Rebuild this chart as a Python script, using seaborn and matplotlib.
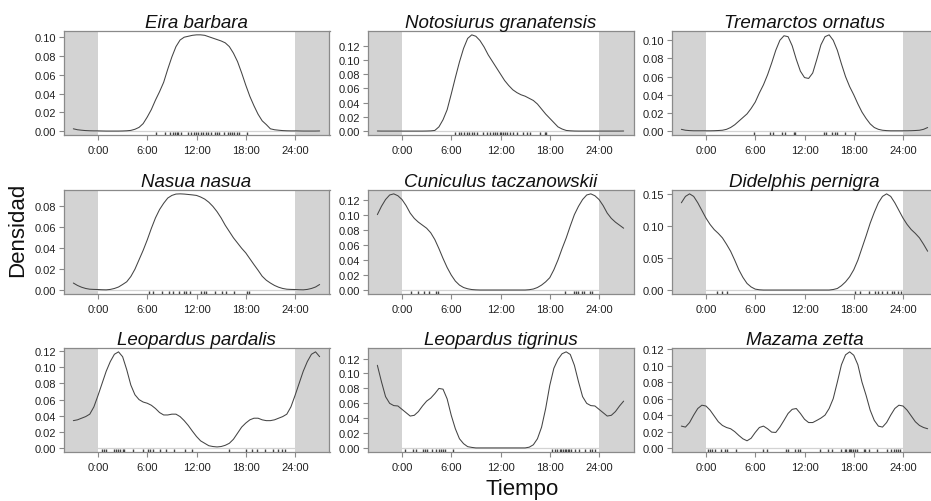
import numpy as np
import pandas as pd
import matplotlib
matplotlib.use("Agg")
import matplotlib.pyplot as plt
import seaborn as sns

# ---------------- data ----------------
species = ["Eira barbara", "Notosiurus granatensis", "Tremarctos ornatus",
           "Nasua nasua", "Cuniculus taczanowskii", "Didelphis pernigra",
           "Leopardus pardalis", "Leopardus tigrinus", "Mazama zetta"]

# density at every half hour from 0:00 to 23:30 (one daily cycle)
eira = [0.0003, 0.0002, 0.0001, 0.0001, 0.0001, 0.0001, 0.0002, 0.0004,
        0.0008, 0.002, 0.004, 0.008, 0.015, 0.023, 0.033, 0.042,
        0.052, 0.066, 0.079, 0.090, 0.097, 0.100, 0.101, 0.102,
        0.1025, 0.1025, 0.102, 0.1005, 0.099, 0.0975, 0.096, 0.094,
        0.090, 0.083, 0.074, 0.062, 0.049, 0.037, 0.027, 0.018,
        0.011, 0.007, 0.0025, 0.0015, 0.001, 0.0006, 0.0004, 0.0003]
noto = [0.0001, 0.0001, 0.0001, 0.0001, 0.0001, 0.0001, 0.0002, 0.0004,
        0.001, 0.006, 0.016, 0.030, 0.052, 0.075, 0.097, 0.116,
        0.130, 0.135, 0.133, 0.127, 0.118, 0.107, 0.098, 0.089,
        0.080, 0.071, 0.064, 0.058, 0.054, 0.051, 0.049, 0.046,
        0.043, 0.038, 0.031, 0.024, 0.018, 0.012, 0.006, 0.003,
        0.001, 0.0005, 0.0002, 0.0001, 0.0001, 0.0001, 0.0001, 0.0001]
trem = [0.0004, 0.0004, 0.0005, 0.0007, 0.001, 0.002, 0.004, 0.007,
        0.011, 0.015, 0.019, 0.025, 0.032, 0.042, 0.051, 0.062,
        0.075, 0.089, 0.100, 0.105, 0.104, 0.094, 0.079, 0.066,
        0.059, 0.058, 0.064, 0.079, 0.095, 0.104, 0.106, 0.100,
        0.089, 0.074, 0.060, 0.049, 0.040, 0.030, 0.021, 0.014,
        0.008, 0.004, 0.002, 0.001, 0.0006, 0.0004, 0.0004, 0.0004]
nasua = [0.0006, 0.0004, 0.0003, 0.0007, 0.0016, 0.003, 0.0054, 0.008,
         0.013, 0.020, 0.029, 0.038, 0.048, 0.059, 0.069, 0.077,
         0.083, 0.088, 0.0905, 0.0918, 0.092, 0.0918, 0.0914, 0.091,
         0.0905, 0.089, 0.087, 0.084, 0.080, 0.075, 0.069, 0.062,
         0.056, 0.050, 0.045, 0.040, 0.0356, 0.030, 0.0244, 0.019,
         0.0133, 0.0095, 0.0068, 0.0045, 0.0028, 0.0016, 0.0009, 0.0007]
cuni = [0.120, 0.112, 0.102, 0.095, 0.090, 0.086, 0.082, 0.076,
        0.067, 0.055, 0.042, 0.030, 0.020, 0.012, 0.0067, 0.0035,
        0.0018, 0.0008, 0.0004, 0.0002, 0.0002, 0.0002, 0.0002, 0.0002,
        0.0002, 0.0002, 0.0002, 0.0002, 0.0002, 0.0002, 0.0002, 0.0006,
        0.0015, 0.0035, 0.0067, 0.011, 0.0165, 0.027, 0.040, 0.055,
        0.069, 0.085, 0.100, 0.111, 0.120, 0.126, 0.1275, 0.125]
didel = [0.113, 0.103, 0.095, 0.089, 0.082, 0.072, 0.061, 0.047,
         0.032, 0.020, 0.0105, 0.005, 0.0016, 0.0006, 0.0002, 0.0002,
         0.0002, 0.0002, 0.0002, 0.0002, 0.0002, 0.0002, 0.0002, 0.0002,
         0.0002, 0.0002, 0.0002, 0.0002, 0.0002, 0.0002, 0.0002, 0.001,
         0.0026, 0.007, 0.013, 0.021, 0.032, 0.047, 0.066, 0.085,
         0.105, 0.122, 0.137, 0.147, 0.151, 0.147, 0.137, 0.125]
lpard = [0.065, 0.080, 0.095, 0.107, 0.116, 0.119, 0.113, 0.097,
         0.078, 0.066, 0.060, 0.057, 0.0555, 0.053, 0.049, 0.044,
         0.041, 0.041, 0.042, 0.042, 0.039, 0.034, 0.028, 0.021,
         0.0144, 0.009, 0.006, 0.003, 0.002, 0.0015, 0.002, 0.0035,
         0.006, 0.011, 0.0185, 0.026, 0.031, 0.035, 0.037, 0.037,
         0.035, 0.034, 0.034, 0.035, 0.037, 0.039, 0.042, 0.051]
ltig = [0.052, 0.0475, 0.043, 0.044, 0.049, 0.0565, 0.063, 0.067,
        0.073, 0.080, 0.079, 0.066, 0.044, 0.026, 0.0126, 0.006,
        0.002, 0.001, 0.0003, 0.0003, 0.0003, 0.0003, 0.0003, 0.0003,
        0.0003, 0.0003, 0.0003, 0.0003, 0.0003, 0.0003, 0.0003, 0.0013,
        0.0045, 0.0126, 0.028, 0.053, 0.084, 0.107, 0.119, 0.1265,
        0.129, 0.1255, 0.111, 0.089, 0.069, 0.060, 0.057, 0.0565]
mazama = [0.051, 0.046, 0.039, 0.032, 0.0275, 0.025, 0.0235, 0.020,
          0.0154, 0.0113, 0.0089, 0.012, 0.019, 0.025, 0.0267, 0.0235,
          0.0194, 0.019, 0.0255, 0.0336, 0.042, 0.047, 0.048, 0.042,
          0.035, 0.031, 0.031, 0.0336, 0.0364, 0.040, 0.048, 0.060,
          0.080, 0.101, 0.113, 0.1166, 0.1125, 0.101, 0.080, 0.064,
          0.046, 0.0336, 0.0267, 0.0255, 0.031, 0.040, 0.048, 0.052]

# observation times (hours) shown as rug ticks
eira_obs = [7.1, 8.2, 8.8, 9.1, 9.4, 9.6, 9.8, 10.1, 11.0, 11.3, 11.7, 11.9, 12.2,
            12.5, 12.8, 13.2, 13.4, 13.8, 14.2, 14.5, 14.7, 15.3, 15.8, 16.1,
            16.3, 16.6, 16.9, 17.2, 18.1]
noto_obs = [6.5, 6.9, 7.2, 7.5, 7.9, 8.2, 8.5, 8.8, 9.1, 9.9, 10.3, 10.7, 11.1,
            11.3, 11.6, 11.9, 12.1, 12.3, 12.6, 12.8, 13.1, 13.5, 14.0, 14.8,
            15.2, 15.6, 16.8, 17.4, 17.6]
trem_obs = [5.9, 7.8, 8.2, 9.2, 9.6, 10.7, 10.9, 14.4, 14.6, 15.4, 15.7, 16.0,
            16.9, 18.2]
nasua_obs = [6.2, 6.7, 7.8, 8.7, 9.1, 9.9, 10.5, 10.7, 11.2, 12.6, 12.9, 13.2,
             14.2, 15.1, 15.6, 16.6, 18.2, 18.4]
cuni_obs = [1.1, 2.0, 2.7, 3.3, 4.1, 4.4, 19.8, 20.9, 21.2, 21.4, 21.9, 22.2,
            22.9, 23.2]
didel_obs = [1.3, 2.0, 2.5, 18.1, 18.8, 19.8, 20.6, 20.9, 21.4, 22.0, 22.6,
             22.9, 23.4, 23.7]
lpard_obs = [0.5, 0.7, 1.0, 2.0, 2.2, 2.4, 2.7, 3.0, 3.2, 4.3, 5.5, 6.1, 6.3,
             6.7, 7.5, 8.3, 9.3, 10.6, 11.5, 16.0, 18.0, 18.8, 19.4, 20.4,
             21.3, 21.9, 22.4, 22.8]
ltig_obs = [0.4, 1.3, 1.7, 2.6, 2.8, 3.0, 3.7, 4.2, 4.5, 4.8, 5.0, 5.2, 6.2,
            18.3, 18.6, 18.9, 19.2, 19.4, 19.6, 19.8, 20.0, 20.2, 20.4, 20.6,
            21.1, 21.6, 22.3, 22.9, 23.2, 23.5]
mazama_obs = [0.2, 0.5, 0.7, 1.1, 1.8, 2.3, 2.5, 3.7, 6.9, 7.4, 9.7, 10.0, 10.9,
              11.2, 11.5, 13.9, 14.9, 15.3, 16.5, 16.9, 17.1, 17.4, 17.5, 17.7,
              17.9, 18.2, 18.4, 19.2, 19.4, 19.8, 20.8, 22.0, 22.5, 22.9, 23.1,
              23.4, 23.6]

densities = [eira, noto, trem, nasua, cuni, didel, lpard, ltig, mazama]
observations = [eira_obs, noto_obs, trem_obs, nasua_obs, cuni_obs, didel_obs,
                lpard_obs, ltig_obs, mazama_obs]
y_ticks = [[0, .02, .04, .06, .08, .10], [0, .02, .04, .06, .08, .10, .12],
           [0, .02, .04, .06, .08, .10], [0, .02, .04, .06, .08],
           [0, .02, .04, .06, .08, .10, .12], [0, .05, .10, .15],
           [0, .02, .04, .06, .08, .10, .12], [0, .02, .04, .06, .08, .10, .12],
           [0, .02, .04, .06, .08, .10, .12]]
x_ticks = [0, 6, 12, 18, 24]
x_labels = ["0:00", "6:00", "12:00", "18:00", "24:00"]
x_extend = (-3, 27)

# ---------------- style ----------------
sns.set_theme(style="white")
plt.rcParams["font.family"] = ["Liberation Sans", "DejaVu Sans"]

W, H = 931, 502
fig = plt.figure(figsize=(W / 100, H / 100), dpi=100)

col_left = [63.5, 367.5, 671.5]
row_top = [32, 191, 349]
ax_w, ax_h = 266, 104
frame_col = "#8a8a8a"
shade = "#d3d3d3"

pad = 0.04 * (x_extend[1] - x_extend[0])
xlim = (x_extend[0] - pad, x_extend[1] + pad)

for i, name in enumerate(species):
    r, c = divmod(i, 3)
    ax = fig.add_axes([col_left[c] / W, (H - row_top[r] - ax_h) / H,
                       ax_w / W, ax_h / H])
    d = densities[i]
    n = len(d)
    step = 24 / n
    idx = np.arange(int(x_extend[0] / step), int(x_extend[1] / step) + 1)
    df = pd.DataFrame({"hour": idx * step,
                       "dens": [d[k % n] for k in idx]})
    ymax = max(d)
    ax.set_xlim(*xlim)
    ax.set_ylim(-0.04 * ymax, 1.04 * ymax)
    ax.axvspan(xlim[0], 0, color=shade, lw=0, zorder=0)
    ax.axvspan(24, xlim[1], color=shade, lw=0, zorder=0)
    ax.axhline(0, color=shade, lw=0.9, zorder=0.5)
    sns.lineplot(data=df, x="hour", y="dens", ax=ax, color="#444444",
                 lw=0.75, zorder=3)
    sns.rugplot(x=observations[i], ax=ax, height=0.03, color="#444444",
                lw=0.6, expand_margins=False, zorder=4)
    ax.set_xticks(x_ticks)
    ax.set_xticklabels(x_labels)
    ax.set_yticks(y_ticks[i])
    ax.set_yticklabels([f"{v:.2f}" for v in y_ticks[i]])
    ax.set_xlabel("")
    ax.set_ylabel("")
    ax.tick_params(axis="both", which="both", direction="out", length=3.5,
                   width=0.8, color=frame_col, labelsize=8, labelcolor="#222222",
                   pad=2, bottom=True, left=True)
    ax.tick_params(axis="x", pad=4)
    for s in ax.spines.values():
        s.set_visible(True)
        s.set_color(frame_col)
        s.set_linewidth(0.9)
    ax.set_title(name, fontsize=13.5, style="italic", pad=3, color="#111111")

fig.text(18 / W, 1 - 230 / H, "Densidad", rotation=90, ha="center",
         va="center", fontsize=16, color="#111111")
fig.text(522 / W, 1 - 490 / H, "Tiempo", ha="center", va="center",
         fontsize=16, color="#111111")

fig.savefig("out.png", dpi=100, facecolor="white")
